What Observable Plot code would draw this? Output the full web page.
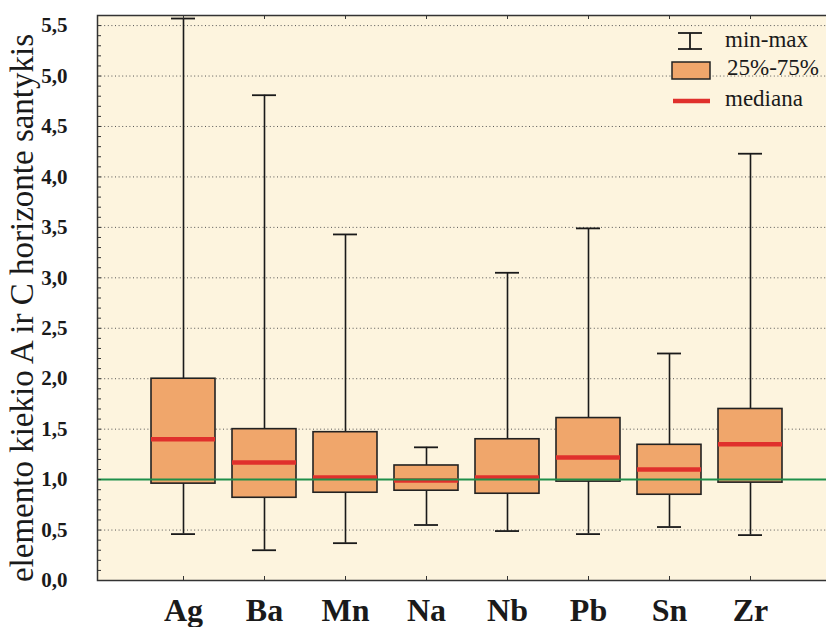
<!DOCTYPE html>
<html>
<head>
<meta charset="utf-8">
<script src="https://cdn.jsdelivr.net/npm/d3@7"></script>
<script src="https://cdn.jsdelivr.net/npm/@observablehq/plot@0.6"></script>
<style>
  html, body { margin: 0; padding: 0; background: white; overflow: hidden; }
  #wrap { position: relative; width: 826px; height: 627px; }
  #legend { position: absolute; left: 0; top: 0; pointer-events: none; }
</style>
</head>
<body>
<div id="wrap"></div>
<script>
const cats = ["Ag", "Ba", "Mn", "Na", "Nb", "Pb", "Sn", "Zr"];
const minV = [0.46, 0.30, 0.37, 0.55, 0.49, 0.46, 0.53, 0.45];
const q1V  = [0.96, 0.82, 0.87, 0.89, 0.86, 0.98, 0.85, 0.97];
const medV = [1.40, 1.17, 1.02, 0.99, 1.02, 1.22, 1.10, 1.35];
const q3V  = [2.00, 1.50, 1.47, 1.14, 1.40, 1.61, 1.345, 1.70];
const maxV = [5.57, 4.81, 3.43, 1.32, 3.05, 3.49, 2.25, 4.23];
const refLine = [1.0];
const yTicks = [0, 0.5, 1.0, 1.5, 2.0, 2.5, 3.0, 3.5, 4.0, 4.5, 5.0, 5.5];
const gridTicks = [0.5, 1.5, 2.0, 2.5, 3.0, 3.5, 4.0, 4.5, 5.0, 5.5];
const yMinor = d3.range(0, 56).map(i => i / 10);
const yTitle = "elemento kiekio A ir C horizonte santykis";
const legendLabels = ["min-max", "25%-75%", "mediana"];

const data = cats.map((c, i) => ({cat: c, min: minV[i], q1: q1V[i], med: medV[i], q3: q3V[i], max: maxV[i]}));

const serif = "'Liberation Serif', 'Times New Roman', serif";
const boxFill = "#f0a66b";
const medColor = "#e0302c";
const green = "#1f8f4a";
const ink = "#1a1a1a";

const chart = Plot.plot({
  width: 826,
  height: 627,
  marginLeft: 97,
  marginTop: 15,
  marginBottom: 47,
  marginRight: -10,
  style: {background: "white", fontFamily: serif, overflow: "hidden"},
  x: {type: "band", domain: cats, paddingInner: 0.206, paddingOuter: 0.615, axis: null},
  y: {domain: [0, 5.6], axis: null},
  marks: [
    Plot.frame({fill: "#fdf4de", stroke: null}),
    Plot.gridY(gridTicks, {stroke: "#555", strokeOpacity: 1, strokeWidth: 1, strokeDasharray: "1,2.6"}),
    Plot.ruleX(data, {x: "cat", y1: "min", y2: "max", stroke: ink, strokeWidth: 1.6}),
    Plot.tickY(data, {x: "cat", y: "min", stroke: ink, strokeWidth: 1.8, insetLeft: 20, insetRight: 20}),
    Plot.tickY(data, {x: "cat", y: "max", stroke: ink, strokeWidth: 1.8, insetLeft: 20, insetRight: 20}),
    Plot.barY(data, {x: "cat", y1: "q1", y2: "q3", fill: boxFill, stroke: "#222", strokeWidth: 1.6}),
    Plot.tickY(data, {x: "cat", y: "med", stroke: medColor, strokeWidth: 4.5}),
    Plot.ruleY(refLine, {stroke: green, strokeWidth: 2}),
    Plot.frame({stroke: "#333", strokeWidth: 1.5}),
    // inward minor ticks along the left frame edge
    Plot.tickY(yMinor, {y: d => d, stroke: "#333", strokeWidth: 1, insetRight: 735}),
    // inward category ticks along bottom and top frame edges
    Plot.tickX(cats, {x: d => d, stroke: "#333", strokeWidth: 1, insetTop: 561}),
    Plot.tickX(cats, {x: d => d, stroke: "#333", strokeWidth: 1, insetBottom: 561}),
    Plot.axisY(yTicks, {anchor: "left", tickSize: 0, tickPadding: 30, label: null,
      tickFormat: d => d.toFixed(1).replace(".", ","), fontSize: 21, fontWeight: "bold", fill: ink}),
    Plot.axisX({anchor: "bottom", tickSize: 0, tickPadding: 18, label: null, fontSize: 32, fontWeight: "bold", fill: ink}),
    Plot.text([yTitle], {frameAnchor: "left", rotate: -90, dx: -75, dy: 10, fontSize: 33, textAnchor: "middle", lineAnchor: "middle", fill: ink})
  ]
});

const wrap = document.getElementById("wrap");
wrap.appendChild(chart);

// Legend overlay (inside plot area, top right)
const ns = "http://www.w3.org/2000/svg";
const lg = d3.create("svg").attr("id", "legend").attr("width", 826).attr("height", 627)
  .attr("xmlns", ns).style("font-family", serif);
lg.append("line").attr("x1", 690).attr("x2", 690).attr("y1", 33).attr("y2", 49).attr("stroke", ink).attr("stroke-width", 1.8);
lg.append("line").attr("x1", 678).attr("x2", 702).attr("y1", 33).attr("y2", 33).attr("stroke", ink).attr("stroke-width", 1.8);
lg.append("line").attr("x1", 678).attr("x2", 702).attr("y1", 49).attr("y2", 49).attr("stroke", ink).attr("stroke-width", 1.8);
lg.append("rect").attr("x", 672).attr("y", 62).attr("width", 38).attr("height", 17)
  .attr("fill", boxFill).attr("stroke", "#222").attr("stroke-width", 1.5);
lg.append("line").attr("x1", 673).attr("x2", 710).attr("y1", 101).attr("y2", 101).attr("stroke", medColor).attr("stroke-width", 4.5);
const ly = [47, 75, 106];
const lx = [725, 727, 725];
legendLabels.forEach((t, i) => {
  lg.append("text").attr("x", lx[i]).attr("y", ly[i]).attr("font-size", 23).attr("fill", ink).text(t);
});
wrap.appendChild(lg.node());
</script>
</body>
</html>
